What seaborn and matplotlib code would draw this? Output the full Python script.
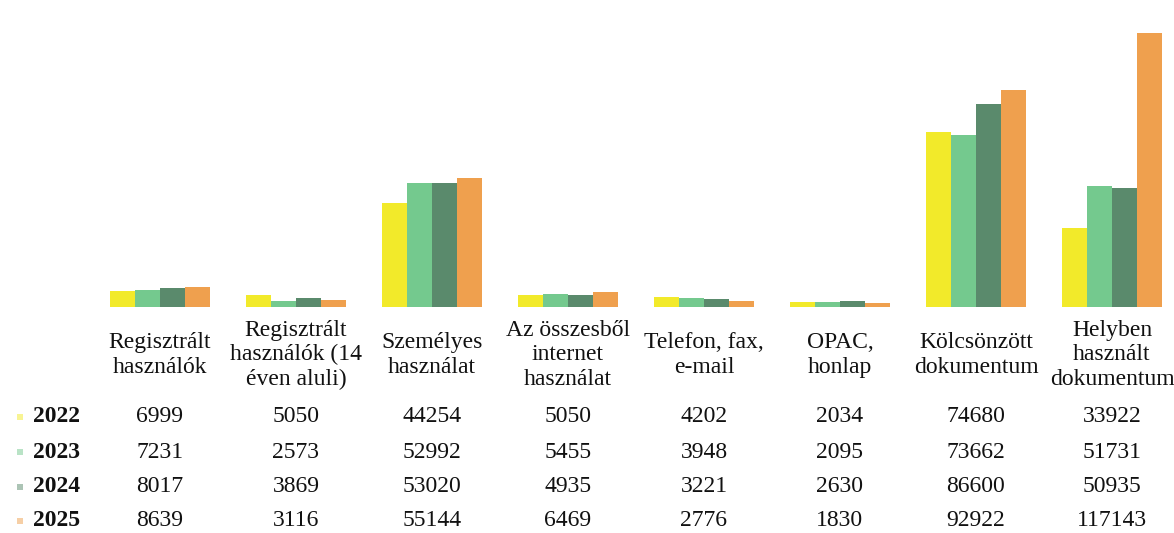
import matplotlib
matplotlib.use('Agg')
import matplotlib.pyplot as plt
import matplotlib.transforms as mtransforms
from matplotlib.patches import Rectangle
import seaborn as sns
import pandas as pd

# categories (table headers) and yearly values
categories = ['Regisztrált\nhasználók', 'Regisztrált\nhasználók (14\néven aluli)',
              'Személyes\nhasználat', 'Az összesből\ninternet\nhasználat',
              'Telefon, fax,\ne-mail', 'OPAC,\nhonlap', 'Kölcsönzött\ndokumentum',
              'Helyben\nhasznált\ndokumentum']
years = ['2022', '2023', '2024', '2025']
v2022 = [6999, 5050, 44254, 5050, 4202, 2034, 74680, 33922]
v2023 = [7231, 2573, 52992, 5455, 3948, 2095, 73662, 51731]
v2024 = [8017, 3869, 53020, 4935, 3221, 2630, 86600, 50935]
v2025 = [8639, 3116, 55144, 6469, 2776, 1830, 92922, 117143]
colors = ['#F2EA2A', '#74C98E', '#5A8A6C', '#EFA04E']

series = [v2022, v2023, v2024, v2025]
rows = []
for y, vals in zip(years, series):
    for c, v in zip(categories, vals):
        rows.append({'cat': c, 'year': y, 'value': v})
df = pd.DataFrame(rows)

sns.set_theme(style='white')
plt.rcParams['font.family'] = ['Liberation Serif', 'DejaVu Serif']

H = 533.0
fig = plt.figure(figsize=(11.74, 5.33), dpi=100)
ax = fig.add_axes([0, (H - 307) / H, 1, 280.7 / H])

sns.barplot(data=df, x='cat', y='value', hue='year', order=categories,
            hue_order=years, palette=colors, width=0.735, gap=0,
            saturation=1, legend=False, ax=ax, linewidth=0)
ax.set_xlim(-1.176, 7.456)
ax.set_ylim(0, 120000)
ax.axis('off')

# data table under the bars
trans = mtransforms.blended_transform_factory(ax.transData, fig.transFigure)
for i, c in enumerate(categories):
    ax.text(i, 1 - 355 / H, c, transform=trans, ha='center', va='center',
            fontsize=17, linespacing=1.22, color='#111111', clip_on=False)

row_y = [417, 452, 487, 521]
for y, vals, col, py in zip(years, series, colors, row_y):
    yf = 1 - py / H
    fig.add_artist(Rectangle((17 / 1174, yf - 3 / H), 6 / 1174, 6 / H,
                             transform=fig.transFigure, color=col, alpha=0.5,
                             lw=0))
    fig.text(33 / 1174, yf, y, ha='left', va='center', fontsize=17,
             fontweight='bold', color='#111111')
    for i, v in enumerate(vals):
        ax.text(i, yf, str(v), transform=trans, ha='center', va='center',
                fontsize=17, color='#111111', clip_on=False)

fig.savefig('out.png', dpi=100)
